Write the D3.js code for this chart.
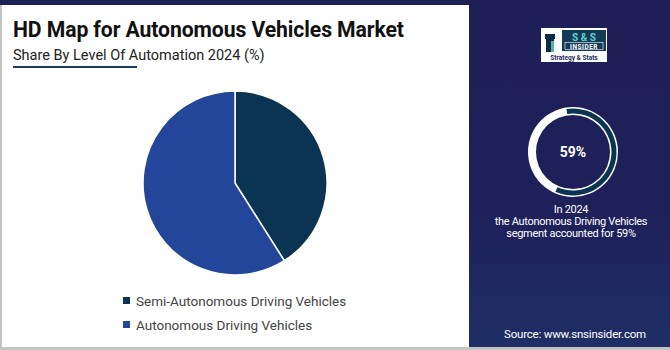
<!DOCTYPE html>
<html>
<head>
<meta charset="utf-8">
<script src="https://cdn.jsdelivr.net/npm/d3@7"></script>
<style>
  body { margin: 0; background: #fff; }
  svg { display: block; font-family: Roboto, "Noto Sans", sans-serif; }
</style>
</head>
<body>
<svg id="chart"></svg>
<script>
// data
const segments = ['Semi-Autonomous Driving Vehicles', 'Autonomous Driving Vehicles'];
const shares = [41, 59];
const colors = ['#0b3352', '#24469a'];
const highlight = 59;
const noteLines = ['In 2024', 'the Autonomous Driving Vehicles', 'segment accounted for 59%'];

const width = 670, height = 350;
const svg = d3.select('#chart')
    .attr('width', width)
    .attr('height', height);

// background panels
svg.append('rect').attr('x', 0).attr('y', 0).attr('width', width).attr('height', height).attr('fill', '#fff');
svg.append('rect').attr('x', 0).attr('y', 5).attr('width', 2).attr('height', height).attr('fill', '#c4c4c4');
svg.append('rect').attr('x', 0).attr('y', 347).attr('width', width).attr('height', 3).attr('fill', '#c4c4c4');

const grad = svg.append('defs').append('linearGradient')
    .attr('id', 'side').attr('x1', 0).attr('y1', 0).attr('x2', 0).attr('y2', 1);
grad.append('stop').attr('offset', '0%').attr('stop-color', '#1e1f57');
grad.append('stop').attr('offset', '60%').attr('stop-color', '#1e2059');
grad.append('stop').attr('offset', '100%').attr('stop-color', '#1f2e66');

svg.append('rect').attr('x', 469).attr('y', 0).attr('width', width - 469).attr('height', 347).attr('fill', 'url(#side)');
svg.append('rect').attr('x', 0).attr('y', 0).attr('width', width).attr('height', 5).attr('fill', '#1e1f57');

// titles
svg.append('text')
    .attr('x', 13).attr('y', 37)
    .style('font-size', '21.2px').style('font-weight', 'bold')
    .attr('letter-spacing', '-0.1')
    .attr('fill', '#111')
    .text('HD Map for Autonomous Vehicles Market');

svg.append('text')
    .attr('x', 13).attr('y', 60)
    .style('font-size', '14.5px')
    .attr('fill', '#222')
    .text('Share By Level Of Automation 2024 (%)');

svg.append('rect').attr('x', 13).attr('y', 66).attr('width', 124).attr('height', 2).attr('fill', '#1b3a5c');

// pie
const cx = 235, cy = 183, r = 92;
const pie = d3.pie().sort(null).value(d => d);
const arc = d3.arc().innerRadius(0).outerRadius(r);

svg.append('g')
    .attr('transform', `translate(${cx}, ${cy})`)
    .selectAll('path')
    .data(pie(shares))
    .join('path')
    .attr('d', arc)
    .attr('fill', (d, i) => colors[i])
    .attr('stroke', '#fff')
    .attr('stroke-width', 1.5);

// legend
const legend = svg.append('g');
segments.forEach((s, i) => {
    const y = 301 + i * 24;
    legend.append('rect')
        .attr('x', 123).attr('y', y - 4)
        .attr('width', 7).attr('height', 7)
        .attr('fill', colors[i]);
    legend.append('text')
        .attr('x', 136).attr('y', y + 4.5)
        .style('font-size', '13.5px')
        .attr('fill', '#444')
        .text(s);
});

// logo
const logo = svg.append('g');
logo.append('rect').attr('x', 541).attr('y', 28).attr('width', 66).attr('height', 34).attr('fill', '#fff');
// tower icon
logo.append('rect').attr('x', 546).attr('y', 38).attr('width', 8).attr('height', 14).attr('fill', '#0e2a45');
logo.append('rect').attr('x', 545).attr('y', 34).attr('width', 10).attr('height', 5).attr('fill', '#0e2a45');
logo.append('rect').attr('x', 551).attr('y', 41).attr('width', 3).attr('height', 11).attr('fill', '#4fb7b0');
logo.append('rect').attr('x', 562).attr('y', 30).attr('width', 44).attr('height', 21).attr('fill', '#133a57');
logo.append('text').attr('x', 584).attr('y', 41).attr('text-anchor', 'middle')
    .style('font-size', '10px').style('font-weight', 'bold').attr('fill', '#5fd0c8')
    .text('S & S');
logo.append('rect').attr('x', 565).attr('y', 42.5).attr('width', 38).attr('height', 7)
    .attr('fill', 'none').attr('stroke', '#fff').attr('stroke-width', 0.6);
logo.append('text').attr('x', 584).attr('y', 48.7).attr('text-anchor', 'middle')
    .style('font-size', '6.5px').style('font-weight', 'bold').attr('fill', '#fff')
    .attr('letter-spacing', '0.5')
    .text('INSIDER');
logo.append('text').attr('x', 574).attr('y', 59.5).attr('text-anchor', 'middle')
    .style('font-size', '6.5px').style('font-weight', 'bold').attr('fill', '#1e2a5e')
    .text('Strategy & Stats');

// donut highlight
const dx = 573, dy = 152;
const ring = d3.arc().innerRadius(37).outerRadius(45);
const g2 = svg.append('g').attr('transform', `translate(${dx}, ${dy})`);
g2.append('path')
    .attr('d', ring({startAngle: 0, endAngle: 2 * Math.PI}))
    .attr('fill', '#fff');
const hiScale = d3.scaleLinear().domain([0, 100]).range([0, 2 * Math.PI]);
g2.append('path')
    .attr('d', d3.arc().innerRadius(38.5).outerRadius(43.5)({startAngle: -0.15, endAngle: hiScale(highlight) - 0.15}))
    .attr('fill', '#0b3352');
g2.append('text')
    .attr('text-anchor', 'middle').attr('y', 5)
    .style('font-size', '14px').style('font-weight', 'bold')
    .attr('fill', '#fff')
    .text(highlight + '%');

noteLines.forEach((t, i) => {
    svg.append('text')
        .attr('x', 571).attr('y', 213 + i * 12)
        .attr('text-anchor', 'middle')
        .style('font-size', '11px')
        .attr('letter-spacing', '-0.3')
        .attr('fill', '#fff')
        .text(t);
});

svg.append('text')
    .attr('x', 575).attr('y', 338)
    .attr('text-anchor', 'middle')
    .style('font-size', '11.5px')
    .attr('letter-spacing', '-0.2')
    .attr('fill', '#fff')
    .text('Source: www.snsinsider.com');
</script>
</body>
</html>
